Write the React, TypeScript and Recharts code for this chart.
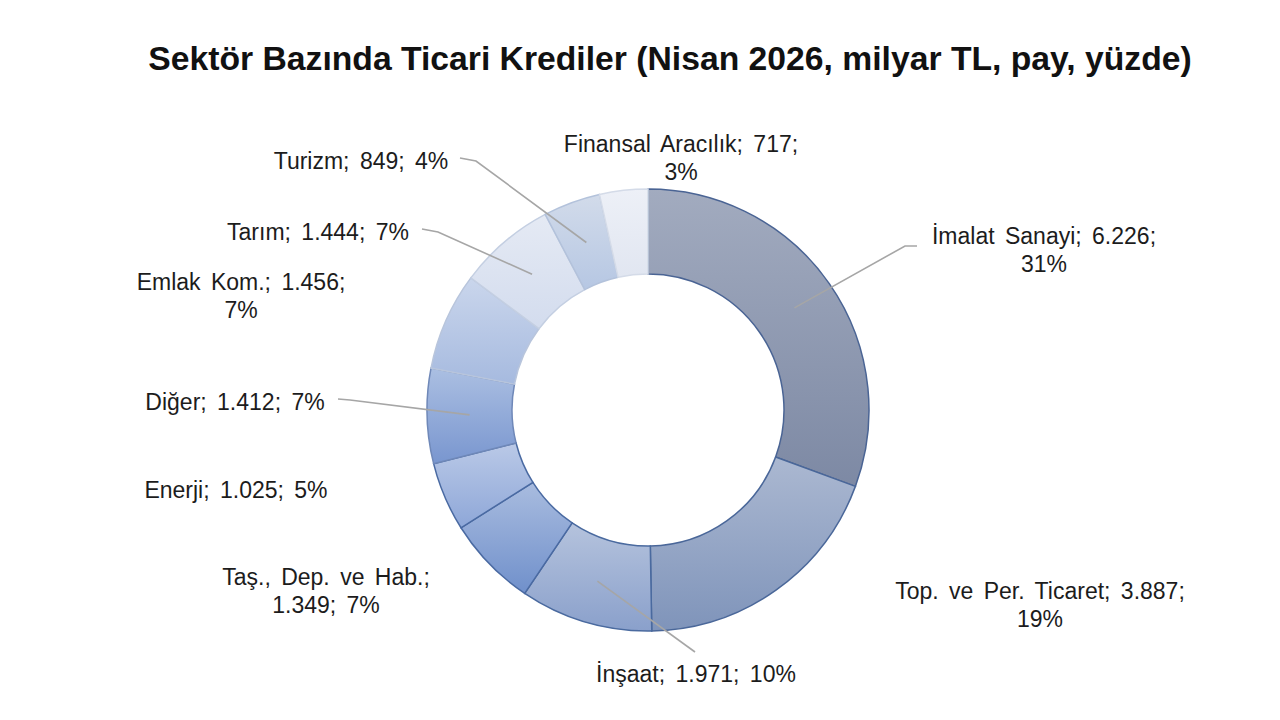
import React from "react";
import { PieChart, Pie, Cell } from "recharts";

const sectors = [
  "İmalat Sanayi",
  "Top. ve Per. Ticaret",
  "İnşaat",
  "Taş., Dep. ve Hab.",
  "Enerji",
  "Diğer",
  "Emlak Kom.",
  "Tarım",
  "Turizm",
  "Finansal Aracılık",
];
const amounts = [6226, 3887, 1971, 1349, 1025, 1412, 1456, 1444, 849, 717];
const amountLabels = ["6.226", "3.887", "1.971", "1.349", "1.025", "1.412", "1.456", "1.444", "849", "717"];
const shares = ["31%", "19%", "10%", "7%", "5%", "7%", "7%", "7%", "4%", "3%"];

const labelLines: string[][] = [
  [`${sectors[0]}; ${amountLabels[0]};`, shares[0]],
  [`${sectors[1]}; ${amountLabels[1]};`, shares[1]],
  [`${sectors[2]}; ${amountLabels[2]}; ${shares[2]}`],
  [`${sectors[3]};`, `${amountLabels[3]}; ${shares[3]}`],
  [`${sectors[4]}; ${amountLabels[4]}; ${shares[4]}`],
  [`${sectors[5]}; ${amountLabels[5]}; ${shares[5]}`],
  [`${sectors[6]}; ${amountLabels[6]};`, shares[6]],
  [`${sectors[7]}; ${amountLabels[7]}; ${shares[7]}`],
  [`${sectors[8]}; ${amountLabels[8]}; ${shares[8]}`],
  [`${sectors[9]}; ${amountLabels[9]};`, shares[9]],
];

const data = sectors.map((name, i) => ({ name, value: amounts[i] }));

const gradTop = ["#a2abbf", "#abb8d1", "#b5c3dd", "#a9bcdf", "#bac9e7", "#abbfe2", "#cad6ec", "#e5eaf4", "#d2dbea", "#edf0f7"];
const gradBot = ["#7d89a4", "#7f94ba", "#8aa0cb", "#7090cb", "#8ea7d8", "#7996cf", "#a6badf", "#d3dcee", "#b6c7e3", "#e1e6f1"];
const strokes = ["#4a6494", "#4a6799", "#4a6a9f", "#4a6aa2", "#4a6aa2", "#6f88b8", "#b8c5dc", "#c4cfe2", "#b3c2db", "#d4dbe8"];

const CX = 648;
const CY = 410;
const labelPos: { x: number; y: number }[] = [
  { x: 396, y: -160 },
  { x: 392, y: 195 },
  { x: 48, y: 264 },
  { x: -322, y: 181 },
  { x: -412, y: 80 },
  { x: -413, y: -8 },
  { x: -407, y: -114 },
  { x: -330, y: -178 },
  { x: -287, y: -249 },
  { x: 33, y: -252 },
];
const leaders: ({ x: number; y: number }[] | null)[] = [
  [{ x: 269, y: -164 }, { x: 257, y: -164 }],
  null,
  [{ x: 47, y: 242 }],
  null,
  null,
  [{ x: -310, y: -11 }, { x: -298, y: -10 }],
  null,
  [{ x: -226, y: -181 }, { x: -210, y: -178 }],
  [{ x: -188, y: -252 }, { x: -172, y: -249 }],
  null,
];

const RAD = Math.PI / 180;
const LINE_H = 28;

const renderLabel = (props: any) => {
  const { cx, cy, midAngle, innerRadius, outerRadius, index } = props;
  const r = (innerRadius + outerRadius) / 2;
  const sx = cx + r * Math.cos(-midAngle * RAD);
  const sy = cy + r * Math.sin(-midAngle * RAD);
  const lines = labelLines[index];
  const pos = labelPos[index];
  const tx = cx + pos.x;
  const ty = cy + pos.y;
  const lead = leaders[index];
  const startY = ty - ((lines.length - 1) * LINE_H) / 2;
  return (
    <g key={`lbl-${index}`}>
      {lead && (
        <polyline
          points={[{ x: sx - cx, y: sy - cy }, ...lead.slice().reverse()]
            .map((p) => `${cx + p.x},${cy + p.y}`)
            .join(" ")}
          fill="none"
          stroke="#a6a6a6"
          strokeWidth={1.6}
        />
      )}
      <text
        x={tx}
        y={startY}
        textAnchor="middle"
        dominantBaseline="central"
        fontSize={23}
        fill="#1c1c1c"
        style={{ whiteSpace: "pre", wordSpacing: "4px" }}
        fontFamily="'Liberation Sans', Arial, sans-serif"
      >
        {lines.map((ln, k) => (
          <tspan key={k} x={tx} dy={k === 0 ? 0 : LINE_H}>
            {ln}
          </tspan>
        ))}
      </text>
    </g>
  );
};

export default function App() {
  return (
    <div
      style={{
        position: "absolute",
        left: 0,
        top: 0,
        width: 1280,
        height: 720,
        background: "#ffffff",
        overflow: "hidden",
      }}
    >
      <div
        style={{
          position: "absolute",
          left: 0,
          width: 1340,
          top: 39,
          textAlign: "center",
          fontFamily: "'Liberation Sans', Arial, sans-serif",
          fontWeight: "bold",
          fontSize: 33.7,
          lineHeight: "normal",
          color: "#111",
          whiteSpace: "nowrap",
        }}
      >
        Sektör Bazında Ticari Krediler (Nisan 2026, milyar TL, pay, yüzde)
      </div>
      <PieChart
        width={1280}
        height={720}
        margin={{ top: 0, right: 0, bottom: 0, left: 0 }}
        style={{ position: "absolute", left: 0, top: 0 }}
      >
        <defs>
          {gradTop.map((c, i) => (
            <linearGradient key={i} id={`g${i}`} x1="0" y1="0" x2="0" y2="1">
              <stop offset="0%" stopColor={c} />
              <stop offset="100%" stopColor={gradBot[i]} />
            </linearGradient>
          ))}
        </defs>
        <Pie
          data={data}
          dataKey="value"
          nameKey="name"
          cx={CX}
          cy={CY}
          innerRadius={136}
          outerRadius={221}
          startAngle={90}
          endAngle={-270}
          isAnimationActive={false}
          label={renderLabel}
          labelLine={false}
        >
          {data.map((_, i) => (
            <Cell key={i} fill={`url(#g${i})`} stroke={strokes[i]} strokeWidth={1.5} />
          ))}
        </Pie>
      </PieChart>
    </div>
  );
}
